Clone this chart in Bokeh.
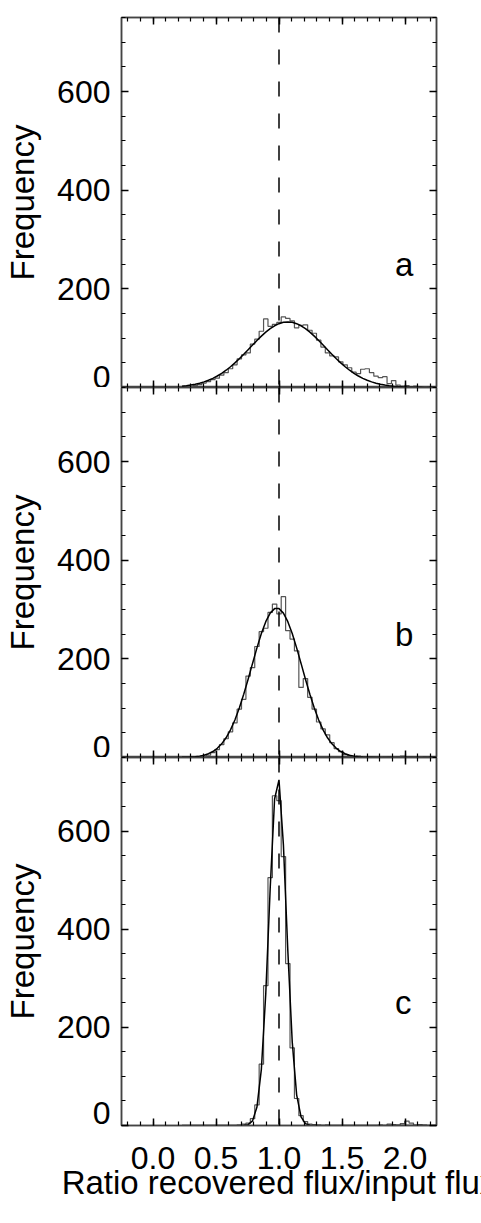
import numpy as np
from bokeh.plotting import figure
from bokeh.models import (LinearAxis, Range1d, SingleIntervalTicker,
                          PrintfTickFormatter, Span, Label)
from bokeh.layouts import column
from bokeh.embed import file_html
from bokeh.resources import INLINE

# ---------------- data ----------------
bin_first_center = 0.23
bin_width = 0.035
reference_ratio = 1.0
panel_letters = ["a", "b", "c"]

counts_a = [0, 1, 2, 4, 6, 9, 12, 16, 19, 25,
            30, 38, 46, 58, 66, 70, 88, 98, 114, 139,
            124, 128, 132, 143, 140, 135, 121, 126, 127, 116,
            110, 96, 82, 70, 64, 62, 52, 46, 40, 31,
            28, 37, 38, 30, 23, 20, 22, 8, 14, 5,
            3, 4, 2, 3, 1, 2, 1, 0, 1]
fit_a = [2.6, 3.6, 4.9, 6.6, 8.7, 11.4, 14.7, 18.6, 23.3, 28.8,
         35.0, 42.1, 49.9, 58.4, 67.3, 76.6, 86.0, 95.3, 104.1, 112.2,
         119.3, 125.1, 129.4, 132.1, 133.0, 132.1, 129.4, 125.1, 119.3, 112.2,
         104.1, 95.3, 86.0, 76.6, 67.3, 58.4, 49.9, 42.1, 35.0, 28.8,
         23.3, 18.6, 14.7, 11.4, 8.7, 6.6, 4.9, 3.6, 2.6, 1.9,
         1.3, 0.9, 0.6, 0.4, 0.3, 0.2, 0.1, 0.1, 0.0]

counts_b = [0, 0, 0, 0, 1, 2, 5, 10, 16, 26,
            38, 52, 70, 98, 118, 165, 182, 225, 255, 262,
            294, 311, 291, 326, 257, 240, 216, 142, 160, 122,
            98, 72, 58, 46, 30, 18, 12, 6, 4, 2,
            3, 1, 2, 1, 0, 2, 1, 0, 2, 1,
            3, 1, 0, 1, 2, 0, 1, 0, 0]
fit_b = [0.3, 0.5, 0.9, 1.6, 2.8, 4.7, 7.7, 12.1, 18.6, 27.7,
         40.0, 56.0, 76.1, 100.2, 128.1, 158.7, 190.7, 222.2, 251.2, 275.3,
         292.7, 301.8, 301.8, 292.7, 275.3, 251.2, 222.2, 190.7, 158.7, 128.1,
         100.2, 76.1, 56.0, 40.0, 27.7, 18.6, 12.1, 7.7, 4.7, 2.8,
         1.6, 0.9, 0.5, 0.3, 0.1, 0.1, 0.0, 0.0, 0.0, 0.0,
         0.0, 0.0, 0.0, 0.0, 0.0, 0.0, 0.0, 0.0, 0.0]

counts_c = [0, 0, 0, 0, 0, 0, 0, 0, 0, 0,
            0, 0, 0, 1, 3, 5, 14, 42, 125, 285,
            505, 672, 662, 548, 330, 158, 55, 20, 8, 3,
            2, 1, 0, 1, 0, 0, 0, 0, 0, 0,
            0, 0, 0, 0, 0, 1, 0, 3, 2, 1,
            4, 9, 5, 1, 2, 1, 0, 0, 0]
fit_c = [0, 0, 0, 0, 0, 0, 0, 0, 0, 0,
         0, 0, 0, 0, 0.3, 1.8, 9.4, 37.5, 114.5, 268.4,
         482.5, 665.4, 704.3, 572.0, 356.4, 170.4, 62.5, 17.6, 3.8, 0.6,
         0.1, 0, 0, 0, 0, 0, 0, 0, 0, 0,
         0, 0, 0, 0, 0, 0, 0, 0, 0, 0,
         0, 0, 0, 0, 0, 0, 0, 0, 0]

x_label = "Ratio recovered flux/input flux"
y_label = "Frequency"

# ---------------- layout / style ----------------
X_START, X_END = -0.25, 2.25
Y_START, Y_END = 0, 750
FONT = "Liberation Sans"
TICK_FS = "32px"
LABEL_FS = "33px"
FRAME_COLOR = "#444444"

centers = np.round(bin_first_center + bin_width * np.arange(len(counts_a)), 4)


def style_ticks(ax):
    ax.major_tick_in = 7
    ax.major_tick_out = 0
    ax.minor_tick_in = 4
    ax.minor_tick_out = 0
    ax.axis_line_color = FRAME_COLOR
    ax.axis_line_width = 1.5
    ax.major_tick_line_color = "black"
    ax.major_tick_line_width = 1.5
    ax.minor_tick_line_color = "black"
    ax.minor_tick_line_width = 1.2


def style_labels(ax):
    ax.major_label_text_font = FONT
    ax.major_label_text_font_size = TICK_FS
    ax.major_label_text_color = "black"
    ax.axis_label_text_font = FONT
    ax.axis_label_text_font_size = LABEL_FS
    ax.axis_label_text_font_style = "normal"
    ax.axis_label_text_color = "black"


def hide_labels(ax):
    ax.major_label_text_font_size = "0px"
    ax.major_label_text_color = None
    ax.major_label_standoff = 0
    ax.axis_label = None


def make_panel(counts, fit, letter, height, top, bottom, show_x):
    p = figure(width=481, height=height,
               x_range=Range1d(X_START, X_END), y_range=Range1d(Y_START, Y_END),
               output_backend="svg", toolbar_location=None,
               x_axis_location=None, y_axis_location=None,
               min_border_left=121, min_border_right=45,
               min_border_top=top, min_border_bottom=bottom)
    p.background_fill_color = "white"
    p.border_fill_color = "white"
    p.outline_line_color = FRAME_COLOR
    p.outline_line_width = 1.5

    left = LinearAxis(ticker=SingleIntervalTicker(interval=200, num_minor_ticks=4),
                      axis_label=y_label)
    style_ticks(left)
    style_labels(left)
    left.major_label_standoff = 11
    left.axis_label_standoff = 13
    if show_x:
        # bottom panel has room below its frame: lift the "0" like the others
        left.major_label_text_line_height = 0.7
        left.major_label_overrides = {0: "0\n"}
    p.add_layout(left, "left")

    right = LinearAxis(ticker=SingleIntervalTicker(interval=200, num_minor_ticks=4))
    style_ticks(right)
    hide_labels(right)
    p.add_layout(right, "right")

    above = LinearAxis(ticker=SingleIntervalTicker(interval=0.5, num_minor_ticks=5))
    style_ticks(above)
    hide_labels(above)
    p.add_layout(above, "above")

    below = LinearAxis(ticker=SingleIntervalTicker(interval=0.5, num_minor_ticks=5),
                       formatter=PrintfTickFormatter(format="%.1f"))
    style_ticks(below)
    if show_x:
        below.axis_label = x_label
        style_labels(below)
        below.major_label_standoff = 21
        below.axis_label_standoff = -8
    else:
        hide_labels(below)
    p.add_layout(below, "below")

    p.step(centers, counts, mode="center", line_color="#555555", line_width=1.2)
    p.line(centers, fit, line_color="black", line_width=1.5)

    p.add_layout(Span(location=reference_ratio, dimension="height",
                      line_color="black", line_width=1.5, line_dash="15 17"))

    p.add_layout(Label(x=1.92, y=250, text=letter, text_font=FONT,
                       text_font_size=LABEL_FS, text_color="black",
                       text_align="left", text_baseline="alphabetic"))

    p.xgrid.visible = False
    p.ygrid.visible = False
    return p


pa = make_panel(counts_a, fit_a, panel_letters[0], 387, 17, 0, False)
pb = make_panel(counts_b, fit_b, panel_letters[1], 370, 0, 0, False)
pc = make_panel(counts_c, fit_c, panel_letters[2], 466, 0, 98, True)

layout = column(pa, pb, pc, spacing=0)
open("out.html", "w").write(file_html(layout, INLINE))
